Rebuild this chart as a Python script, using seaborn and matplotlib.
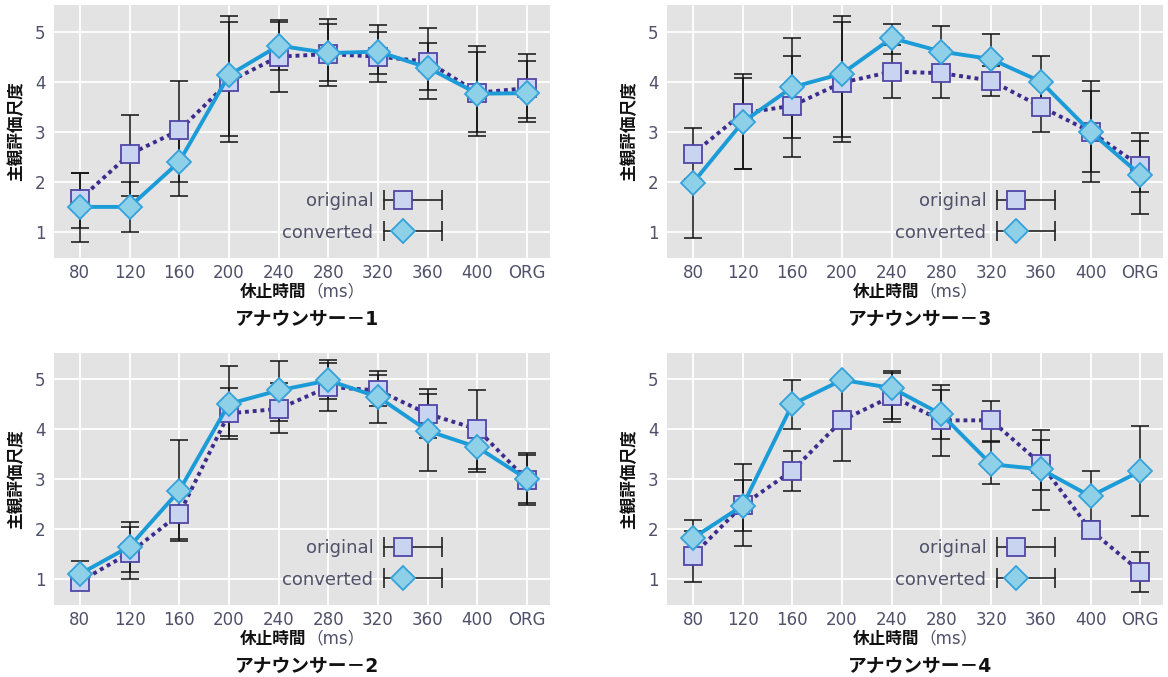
import numpy as np
import pandas as pd
import seaborn as sns
import matplotlib.pyplot as plt
from matplotlib.lines import Line2D
from matplotlib.legend_handler import HandlerBase

# pause lengths (x categories)
pause_labels = ['80', '120', '160', '200', '240', '280', '320', '360', '400', 'ORG']

# Announcer 1
orig_1 = [1.65, 2.55, 3.03, 4.00, 4.50, 4.55, 4.50, 4.40, 3.78, 3.87]
orig_1_lo = [1.08, 1.71, 1.99, 2.79, 3.80, 3.92, 4.00, 3.66, 2.91, 3.19]
orig_1_hi = [2.18, 3.34, 4.02, 5.20, 5.19, 5.15, 4.99, 5.07, 4.71, 4.55]
conv_1 = [1.50, 1.50, 2.40, 4.13, 4.72, 4.57, 4.60, 4.28, 3.76, 3.77]
conv_1_lo = [0.79, 1.00, 1.72, 2.91, 4.24, 4.02, 4.16, 3.84, 2.99, 3.27]
conv_1_hi = [2.18, 1.99, 3.05, 5.32, 5.23, 5.25, 5.13, 4.77, 4.59, 4.42]

# Announcer 2
orig_2 = [0.95, 1.52, 2.30, 4.32, 4.41, 4.85, 4.78, 4.31, 4.00, 2.98]
orig_2_lo = [0.80, 1.01, 1.80, 3.80, 3.92, 4.37, 4.47, 3.83, 3.21, 2.48]
orig_2_hi = [1.10, 2.05, 2.80, 4.83, 4.93, 5.33, 5.08, 4.80, 4.78, 3.49]
conv_2 = [1.10, 1.65, 2.77, 4.51, 4.78, 4.98, 4.65, 3.97, 3.64, 3.00]
conv_2_lo = [0.83, 1.14, 1.76, 3.86, 4.17, 4.60, 4.13, 3.17, 3.15, 2.53]
conv_2_hi = [1.37, 2.15, 3.78, 5.26, 5.37, 5.38, 5.17, 4.71, 4.12, 3.52]

# Announcer 3
orig_3 = [2.56, 3.37, 3.52, 3.98, 4.20, 4.17, 4.02, 3.50, 3.00, 2.32]
orig_3_lo = [2.06, 2.26, 2.49, 2.79, 3.67, 3.67, 3.72, 3.00, 1.99, 1.80]
orig_3_hi = [3.07, 4.07, 4.51, 5.19, 4.73, 4.67, 4.32, 4.00, 4.02, 2.81]
conv_3 = [1.98, 3.19, 3.89, 4.16, 4.87, 4.60, 4.45, 4.00, 3.00, 2.14]
conv_3_lo = [0.87, 2.26, 2.87, 2.89, 4.55, 4.10, 3.95, 3.50, 2.19, 1.35]
conv_3_hi = [2.00, 4.16, 4.87, 5.32, 5.15, 5.11, 4.95, 4.51, 3.82, 2.97]

# Announcer 4
orig_4 = [1.47, 2.48, 3.17, 4.18, 4.66, 4.18, 4.18, 3.31, 1.98, 1.15]
orig_4_lo = [0.95, 1.97, 2.77, 3.36, 4.15, 3.46, 3.76, 2.39, 1.85, 0.74]
orig_4_hi = [1.97, 2.98, 3.57, 5.00, 5.16, 4.88, 4.56, 3.99, 2.10, 1.54]
conv_4 = [1.82, 2.47, 4.50, 4.99, 4.83, 4.30, 3.30, 3.20, 2.66, 3.16]
conv_4_lo = [1.45, 1.67, 4.00, 4.99, 4.20, 3.81, 2.90, 2.79, 2.16, 2.26]
conv_4_hi = [2.18, 3.30, 4.99, 4.99, 5.12, 4.79, 3.75, 3.78, 3.16, 4.07]

panels = [
    ('アナウンサー－1', orig_1, orig_1_lo, orig_1_hi, conv_1, conv_1_lo, conv_1_hi),
    ('アナウンサー－3', orig_3, orig_3_lo, orig_3_hi, conv_3, conv_3_lo, conv_3_hi),
    ('アナウンサー－2', orig_2, orig_2_lo, orig_2_hi, conv_2, conv_2_lo, conv_2_hi),
    ('アナウンサー－4', orig_4, orig_4_lo, orig_4_hi, conv_4, conv_4_lo, conv_4_hi),
]

sns.set_theme(style='darkgrid', rc={
    'axes.facecolor': '#E3E3E3',
    'grid.color': 'white',
    'grid.linewidth': 1.3,
})
plt.rcParams['font.family'] = ['DejaVu Sans', 'Noto Sans CJK JP']

TICK_COLOR = '#50506a'
ORIG_LINE = '#3D2C8D'
CONV_LINE = '#1B9BD7'


class ErrbarHandler(HandlerBase):
    # legend key drawn as  |--marker-----|
    def create_artists(self, legend, orig_handle, xdescent, ydescent,
                       width, height, fontsize, trans):
        y = height / 2 - ydescent
        x0 = -xdescent
        x1 = x0 + width
        bar = Line2D([x0, x1], [y, y], color='#222222', lw=1.2,
                     marker='|', markersize=15, markeredgewidth=1.2)
        mark = Line2D([x0 + 0.33 * width], [y], ls='none',
                      marker=orig_handle.get_marker(),
                      markersize=orig_handle.get_markersize(),
                      markerfacecolor=orig_handle.get_markerfacecolor(),
                      markeredgecolor=orig_handle.get_markeredgecolor(),
                      markeredgewidth=orig_handle.get_markeredgewidth())
        bar.set_transform(trans)
        mark.set_transform(trans)
        return [bar, mark]


fig = plt.figure(figsize=(11.68, 6.77), dpi=100)
positions = [
    [0.0462, 0.6189, 0.4247, 0.3737],
    [0.5711, 0.6189, 0.4247, 0.3737],
    [0.0462, 0.1064, 0.4247, 0.3722],
    [0.5711, 0.1064, 0.4247, 0.3722],
]

x = np.arange(len(pause_labels))

for pos, (title, o, o_lo, o_hi, c, c_lo, c_hi) in zip(positions, panels):
    ax = fig.add_axes(pos)
    o = np.array(o)
    c = np.array(c)

    # error bars underneath
    ax.errorbar(x, o, yerr=[o - np.array(o_lo), np.array(o_hi) - o], fmt='none',
                ecolor='#111111', elinewidth=1.1, capsize=6.5, capthick=1.1, zorder=2)
    ax.errorbar(x, c, yerr=[c - np.array(c_lo), np.array(c_hi) - c], fmt='none',
                ecolor='#111111', elinewidth=1.1, capsize=6.5, capthick=1.1, zorder=2)

    df_o = pd.DataFrame({'x': x, 'score': o})
    df_c = pd.DataFrame({'x': x, 'score': c})

    sns.lineplot(data=df_o, x='x', y='score', ax=ax, color=ORIG_LINE, lw=2.8,
                 linestyle=(0, (1.0, 1.0)), marker='s', markersize=13,
                 markerfacecolor='#C9D5F0', markeredgecolor='#5046A6',
                 markeredgewidth=1.3, zorder=3, legend=False)
    h_o = ax.lines[-1]
    sns.lineplot(data=df_c, x='x', y='score', ax=ax, color=CONV_LINE, lw=2.8,
                 marker='D', markersize=12, markerfacecolor='#8DD0E8',
                 markeredgecolor='#34A2DA', markeredgewidth=1.3, zorder=4,
                 legend=False)
    h_c = ax.lines[-1]

    ax.set_xlim(-0.52, 9.46)
    ax.set_ylim(0.48, 5.53)
    ax.set_xticks(x)
    ax.set_xticklabels(pause_labels)
    ax.set_yticks([1, 2, 3, 4, 5])
    ax.tick_params(axis='both', labelsize=12, colors=TICK_COLOR, length=0)
    ax.tick_params(axis='x', pad=4)
    ax.tick_params(axis='y', pad=6)
    for s in ax.spines.values():
        s.set_visible(False)

    # x label: bold kanji + lighter unit
    ax.set_xlabel('')
    ax.text(0.509, -0.133, '休止時間', transform=ax.transAxes, ha='right',
            va='center', fontsize=12, fontweight='bold', color='#111111')
    ax.text(0.509, -0.133, '（ms）', transform=ax.transAxes, ha='left',
            va='center', fontsize=12, color=TICK_COLOR)
    ax.set_ylabel('主観評価尺度', fontsize=12, fontweight='bold', color='#111111')
    ax.yaxis.set_label_coords(-0.058, 0.5)
    ax.text(0.51, -0.243, title, transform=ax.transAxes, ha='center',
            va='center', fontsize=13.5, fontweight='bold', color='#111111')

    leg = ax.legend(handles=[h_o, h_c], labels=['original', 'converted'],
                    handler_map={h_o: ErrbarHandler(), h_c: ErrbarHandler()},
                    loc='lower right', bbox_to_anchor=(0.782, 0.065),
                    frameon=False, markerfirst=False, fontsize=13,
                    handlelength=3.2, handletextpad=0.6, labelspacing=0.75,
                    borderpad=0, borderaxespad=0)
    for t in leg.get_texts():
        t.set_color(TICK_COLOR)

fig.savefig('out.png', dpi=100)
